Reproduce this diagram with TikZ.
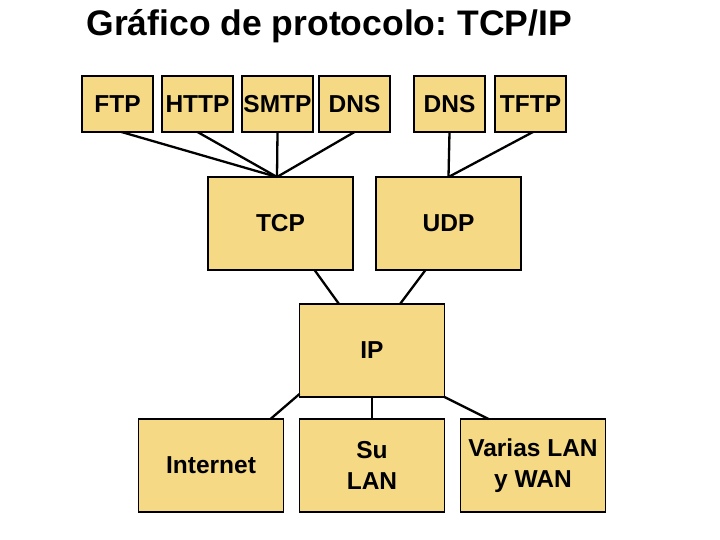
\documentclass[tikz,border=0pt]{standalone}
\usepackage{fontspec}
\setmainfont{Liberation Sans}
\usepackage{xcolor}
\usepackage{tikz}
\usetikzlibrary{positioning}

\definecolor{boxfill}{RGB}{245,217,132}
\tikzset{
  box/.style={draw=black, line width=1.2pt, fill=boxfill, outer sep=0pt,
    inner sep=0pt, align=center, font=\fontsize{24.5}{31}\selectfont\bfseries},
  proto/.style={box, minimum width=71pt, minimum height=56pt},
  layer/.style={box, minimum width=145pt, minimum height=93pt},
  link/.style={line width=2.3pt},
}

\begin{document}
\frenchspacing
\begin{tikzpicture}[x=1pt, y=1pt]

  \useasboundingbox (0,0) rectangle (720,540);

  \node[anchor=base west, font=\fontsize{35.5}{42}\selectfont\bfseries]
    (title) at (83,504) {Gráfico de protocolo: TCP/IP};

  \node[proto]                        (ftp)  at (117.5,436) {FTP};
  \node[proto, right=9pt of ftp]      (http) {HTTP};
  \node[proto, right=9pt of http]     (smtp) {SMTP};
  \node[proto, right=6pt of smtp]     (dns)  {DNS};
  \node[proto, right=24pt of dns]     (dnsb) {DNS};
  \node[proto, right=10pt of dnsb]    (tftp) {TFTP};

  \node[layer]                        (tcp)  at (280.5,316.5) {TCP};
  \node[layer, right=23pt of tcp]     (udp)  {UDP};

  \node[layer]                        (inet) at (211,74.5) {Internet};
  \node[layer, right=16pt of inet]    (su)   {Su\\LAN};
  \node[layer, right=16pt of su]      (wan)  {Varias LAN\\y WAN};
  \node[layer, above=22pt of su]      (ip)   {IP};

  \coordinate (tcpin) at ([xshift=-3.5pt]tcp.north);

  \draw[link] ([xshift=4pt]ftp.south) -- (tcpin);
  \draw[link] (http.south) -- (tcpin);
  \draw[link] (smtp.south) -- (tcpin);
  \draw[link] (dns.south) -- (tcpin);
  \draw[link] (dnsb.south) -- (udp.north);
  \draw[link] ([xshift=2.5pt]tftp.south) -- (udp.north);

  \draw[link] ([xshift=34pt]tcp.south) -- ([xshift=-33pt]ip.north);
  \draw[link] ([xshift=-23pt]udp.south) -- ([xshift=28pt]ip.north);

  \draw[link] ([yshift=3pt]ip.south west) -- ([xshift=-13pt]inet.north east);
  \draw[link] (ip.south) -- (su.north);
  \draw[link] (ip.south east) -- ([xshift=28pt]wan.north west);

\end{tikzpicture}
\end{document}
